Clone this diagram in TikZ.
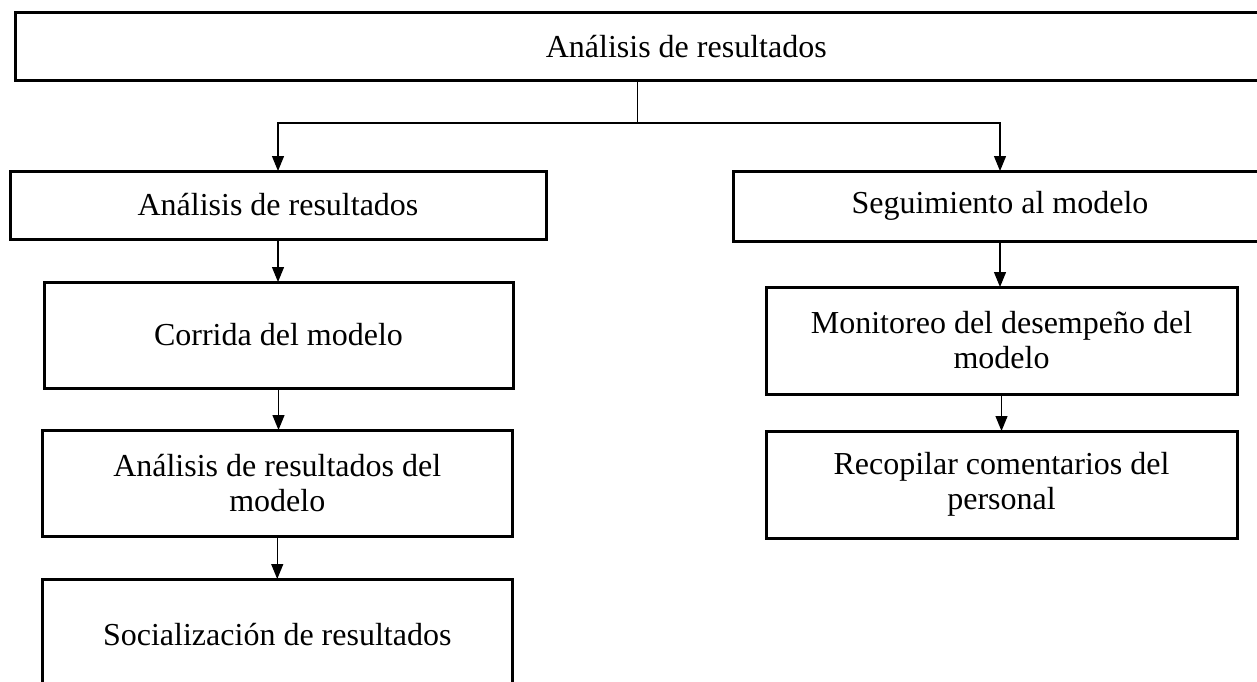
\documentclass[tikz,border=0pt]{standalone}
\usepackage{fontspec}
\setmainfont{Liberation Serif}
\usetikzlibrary{arrows.meta}

\begin{document}
\begin{tikzpicture}[x=1pt,y=-1pt,
            caja/.style={draw=black,line width=3pt,inner sep=0pt,outer sep=0pt,
              align=center,font=\fontsize{32}{35}\selectfont},
            flecha/.style={-{Triangle[width=12pt,length=15pt]},line width=1.2pt}]
            \clip (0,0) rectangle (1257,681);
            \fill [white] (0,0) rectangle (1257,681);
            \node [caja,minimum width=1341.5pt,minimum height=68.5pt] (top) at (686.25,46.25) {Análisis de resultados};
            \node [caja,minimum width=536pt,minimum height=68pt] (ana) at (278,205) {Análisis de resultados};
            \node [caja,minimum width=534pt,minimum height=70pt] (seg) at (1000,206) {Seguimiento al modelo};
            \node [caja,minimum width=469pt,minimum height=106pt] (cor) at (278.5,335) {Corrida del modelo};
            \node [caja,minimum width=469.5pt,minimum height=106pt] (res) at (277.25,483) {Análisis de resultados del\\modelo};
            \node [caja,minimum width=469.5pt,minimum height=112pt] (soc) at (277.25,635) {Socialización de resultados};
            \node [caja,minimum width=471pt,minimum height=107pt] (mon) at (1001.5,340.5) {Monitoreo del desempeño del\\modelo};
            \node [caja,minimum width=471pt,minimum height=107pt] (rec) at (1001.5,484.5) {Recopilar comentarios del\\personal};
            \coordinate (split) at (637.5,123);
            \draw [line width=1.2pt] (split |- top.south) -- (split);
            \draw [flecha] (split) -| (ana.north);
            \draw [flecha] (split) -| (seg.north);
            \draw [flecha] (ana.south) -- (ana.south |- cor.north);
            \draw [flecha] (cor.south) -- (cor.south |- res.north);
            \draw [flecha] (res.south) -- (res.south |- soc.north);
            \draw [flecha] (seg.south) -- (seg.south |- mon.north);
            \draw [flecha] (mon.south) -- (mon.south |- rec.north);
\end{tikzpicture}
\end{document}
